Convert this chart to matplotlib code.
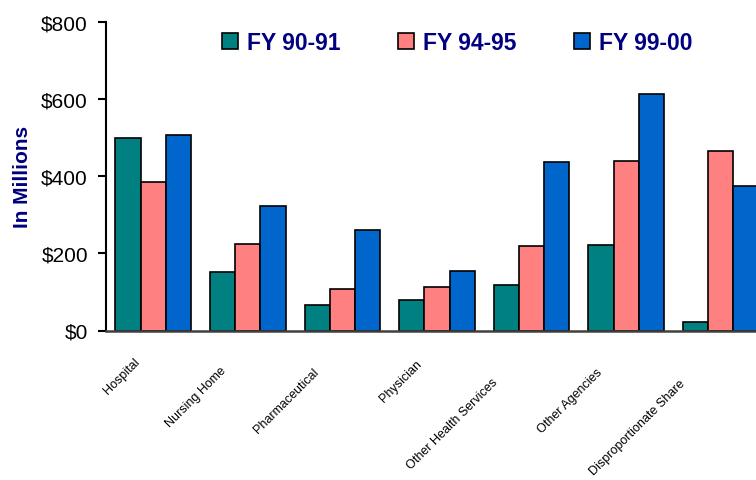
import numpy as np
import matplotlib.pyplot as plt
import matplotlib.transforms as mtransforms
from matplotlib.ticker import StrMethodFormatter

plt.rcParams['font.family'] = ['Liberation Sans', 'DejaVu Sans']

categories = ["Hospital", "Nursing Home", "Pharmaceutical", "Physician",
              "Other Health Services", "Other Agencies", "Disproportionate Share"]
fy_90_91 = [500, 152, 65, 78, 119, 223, 21]
fy_94_95 = [384, 224, 108, 112, 219, 439, 465]
fy_99_00 = [508, 323, 260, 153, 436, 613, 374]

navy = "#000080"

fig = plt.figure(figsize=(7.56, 4.81), dpi=100)
# axes runs a little past the right edge, so the last group is clipped
ax = fig.add_axes([106 / 756, 1 - 331.5 / 481, 662 / 756, 308.5 / 481])

x = np.arange(len(categories))
w = 0.267
ax.bar(x - w, fy_90_91, w, color="#008080", edgecolor="black", lw=1.2, label="FY 90-91")
ax.bar(x, fy_94_95, w, color="#FF8080", edgecolor="black", lw=1.2, label="FY 94-95")
ax.bar(x + w, fy_99_00, w, color="#0066CC", edgecolor="black", lw=1.2, label="FY 99-00")

ax.set_xlim(-0.5, 6.5)
ax.set_ylim(0, 800)
ax.set_yticks(np.arange(0, 801, 200))
ax.yaxis.set_major_formatter(StrMethodFormatter("${x:.0f}"))
ax.tick_params(axis="y", direction="out", length=6, width=1.5, labelsize=15, pad=7)
ax.tick_params(axis="x", length=0, pad=10)

for side in ("top", "right"):
    ax.spines[side].set_visible(False)
ax.spines["left"].set_linewidth(1.5)
ax.spines["bottom"].set_linewidth(1.8)
ax.spines["bottom"].set_color("#404040")

ax.set_ylabel("In Millions", fontsize=15, fontweight="bold", color=navy)
ax.yaxis.set_label_coords(-0.112, 0.5)

lab_size = 9
ax.set_xticks(x)
ax.set_xticklabels(categories, rotation=45, ha="right", va="center",
                   rotation_mode="anchor", fontsize=lab_size)

# slide each category label down-left in proportion to its length
fig.canvas.draw()
for lbl in ax.get_xticklabels():
    bb = lbl.get_window_extent()
    s = 0.37 * bb.width / fig.dpi
    lbl.set_transform(lbl.get_transform() +
                      mtransforms.ScaledTranslation(-s, -s, fig.dpi_scale_trans))

fig.legend(loc="center", bbox_to_anchor=(0.605, 0.909), ncol=3, frameon=False,
           prop=dict(weight="bold", size=16.5), labelcolor=navy,
           handlelength=0.7, handleheight=0.7, handletextpad=0.4,
           columnspacing=2.5)

fig.savefig("out.png", dpi=100)
